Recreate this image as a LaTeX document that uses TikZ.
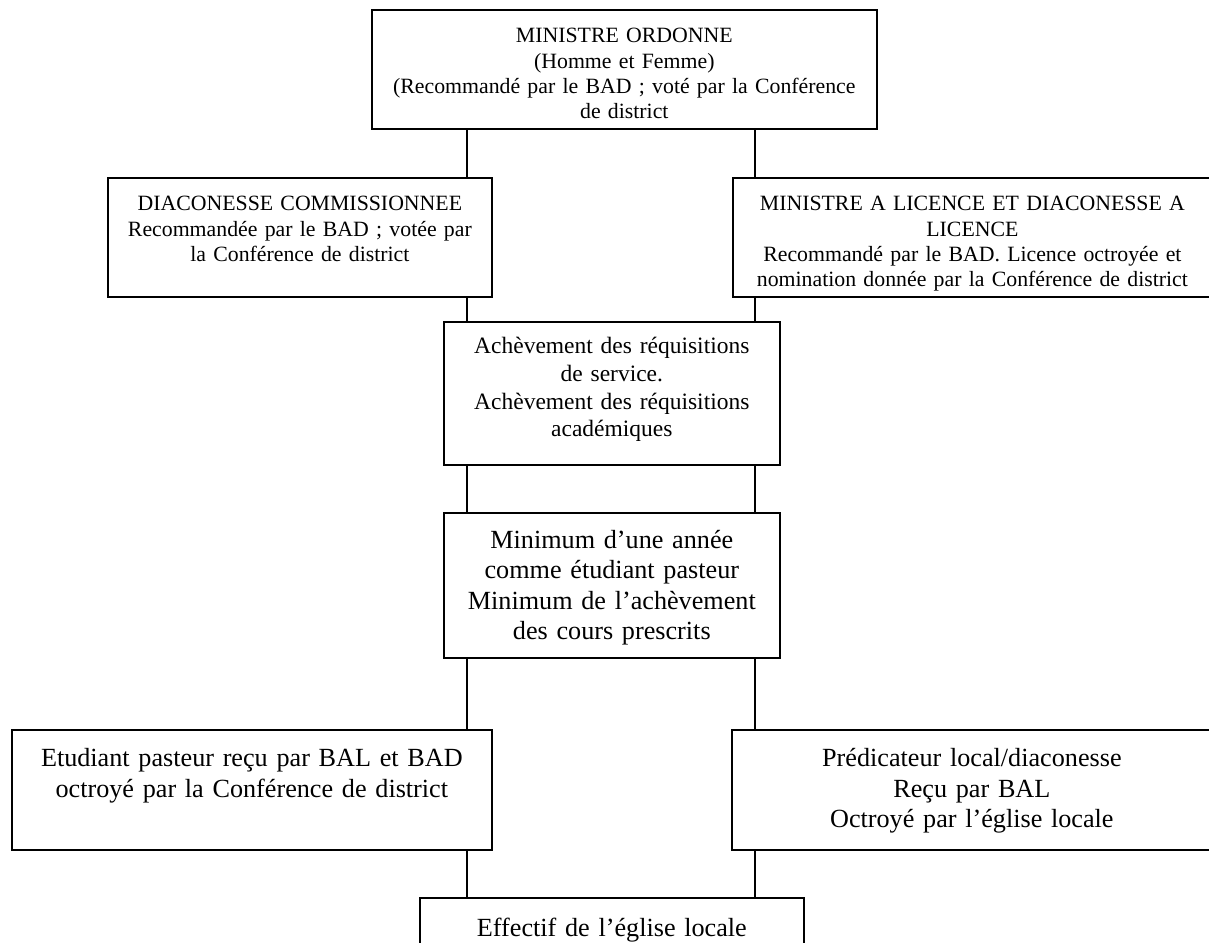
\documentclass[tikz,border=0pt]{standalone}
\usepackage{fontspec}
\setmainfont{Liberation Serif}
\usepackage{tikz}
\usetikzlibrary{positioning, calc}

\tikzset{
  cell/.style={draw, line width=0.75pt, anchor=north west, inner sep=0pt, align=center},
  tenpt/.style={font=\fontsize{9.7}{11.2}\selectfont},
  elevenpt/.style={font=\fontsize{10.45}{12.3}\selectfont},
  twelvept/.style={font=\fontsize{11.65}{13.4}\selectfont},
  link/.style={line width=0.75pt}
}

\begin{document}
\begin{tikzpicture}[x=0.445pt, y=-0.445pt]
    % Page frame
    \useasboundingbox (0,0) rectangle (1209,943);
    \clip (0,0) rectangle (1209,943);
    % The two columns of links
    \coordinate (lcol) at (467,0);
    \coordinate (rcol) at (755,0);
    % Boxes, top to bottom
    \node[cell, tenpt, text width=224.7pt, text height=14.7pt, text depth=38.3pt] (ordonne) at (371,9)
      {MINISTRE ORDONNE\\(Homme et Femme)\\(Recommandé par le BAD ; voté par la Conférence\\de district};
    \node[cell, tenpt, text width=170.9pt, text height=14.7pt, text depth=38.25pt] (diacon) at (107,177)
      {DIACONESSE COMMISSIONNEE\\Recommandée par le BAD ; votée par\\la Conférence de district};
    \node[cell, tenpt, text width=213.2pt, text height=14.7pt, text depth=38.25pt] (licence) at (732,177)
      {MINISTRE A LICENCE ET DIACONESSE A\\LICENCE\\Recommandé par le BAD. Licence octroyée et\\nomination donnée par la Conférence de district};
    \node[cell, elevenpt, text width=149.5pt, text height=14.24pt, text depth=49.4pt] (achev) at (443,321)
      {Achèvement des réquisitions\\de service.\\Achèvement des réquisitions\\académiques};
    \node[cell, twelvept, text width=149.5pt, text height=16pt, text depth=48.5pt] (minimum) at (443,512)
      {Minimum d’une année\\comme étudiant pasteur\\Minimum de l’achèvement\\des cours prescrits};
    \node[cell, twelvept, text width=213.6pt, text height=16.5pt, text depth=36.9pt] (etud) at (11,729)
      {Etudiant pasteur reçu par BAL et BAD\\octroyé par la Conférence de district};
    \node[cell, twelvept, text width=213.6pt, text height=16.5pt, text depth=36.9pt] (predic) at (731,729)
      {Prédicateur local/diaconesse\\Reçu par BAL\\Octroyé par l’église locale};
    \node[cell, twelvept, text width=170.9pt, text height=17pt, text depth=26.7pt] (effectif) at (419,897)
      {Effectif de l’église locale};
    % Left column
    \draw[link] (ordonne.south -| lcol) -- (diacon.north -| lcol);
    \draw[link] (diacon.south -| lcol) -- (achev.north -| lcol);
    \draw[link] (achev.south -| lcol) -- (minimum.north -| lcol);
    \draw[link] (minimum.south -| lcol) -- (etud.north -| lcol);
    \draw[link] (etud.south -| lcol) -- (effectif.north -| lcol);
    % Right column
    \draw[link] (ordonne.south -| rcol) -- (licence.north -| rcol);
    \draw[link] (licence.south -| rcol) -- (achev.north -| rcol);
    \draw[link] (achev.south -| rcol) -- (minimum.north -| rcol);
    \draw[link] (minimum.south -| rcol) -- (predic.north -| rcol);
    \draw[link] (predic.south -| rcol) -- (effectif.north -| rcol);
  \end{tikzpicture}
\end{document}
